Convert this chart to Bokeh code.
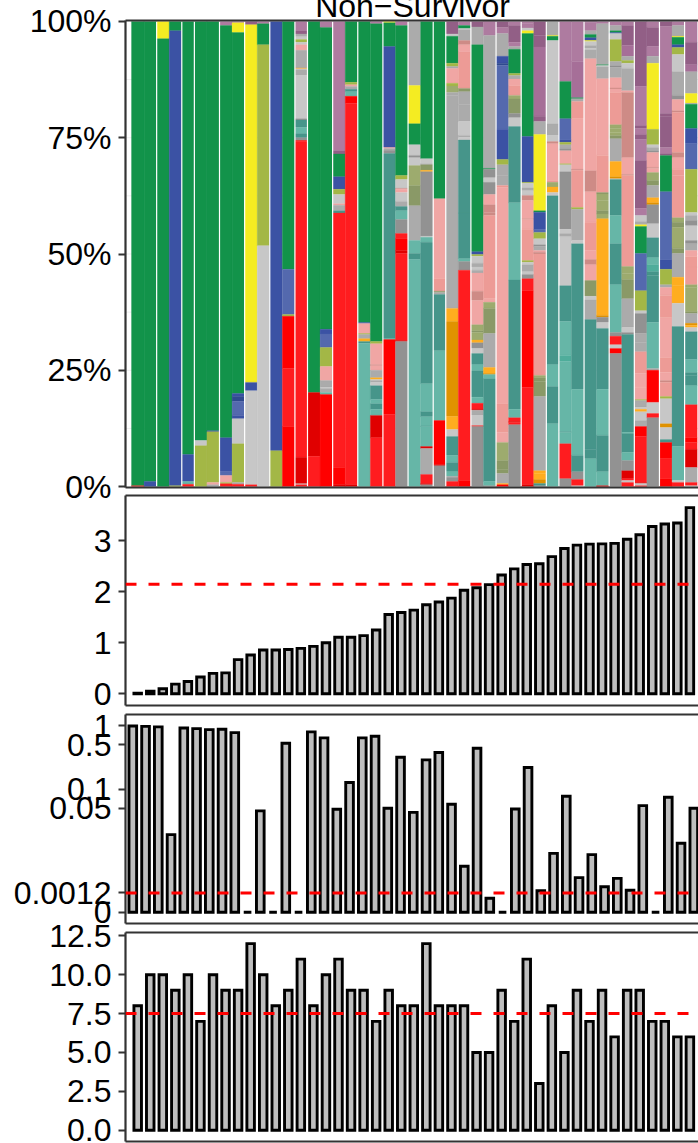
import numpy as np
from bokeh.embed import file_html
from bokeh.resources import INLINE
from bokeh.layouts import column
from bokeh.models import (ColumnDataSource, FixedTicker, Label, LinearAxis, Range1d, Span)
from bokeh.plotting import figure

COLORS = dict(
    G="#12934A", B="#3B52A4", LB="#5469AE", DB="#2F4A8F", Y="#F4EC22", O="#A3B746",
    LG="#C7C7C7", A="#ABABAB", D="#929292", R="#FF1C1F", RR="#FF0000", DR="#E00000",
    P="#F0A6A4", PD="#ED9B96", PK="#CE8B86", T="#46958A", TL="#66B6A7", T2="#4FAD9B",
    M="#AE7BA0", MD="#925F86", MM="#A66F98", OR="#FFAD1F", ORD="#E09200",
    OL="#9DAB6E", OLD="#8A9967",
)

# Each sample: taxa from the top of the bar down, with the cumulative percent where the taxon ends.
s00 = [("G",0.2),("R",0)]
s01 = [("G",1.1),("B",0)]
s02 = [("Y",96.3),("G",0)]
s03 = [("G",98),("B",0.2),("O",0)]
s04 = [("G",6.9),("B",1.1),("TL",0.5),("R",0)]
s05 = [("G",9.9),("LG",8.8),("O",0)]
s06 = [("G",12),("B",11.8),("O",0.9),("P",0.4),("A",0)]
s07 = [("M",99.1),("G",10.5),("B",3.2),("LB",2.4),("P",0.9),("O",0.6),("R",0)]
s08 = [("M",99.7),("Y",97.6),("G",20),("B",19.4),("DB",18.3),("LB",15.3),("B",14.6),("LG",9.2),("O",0.9),("A",0.5),("R",0)]
s09 = [("MD",99.3),("Y",22.4),("B",20.6),("LG",0.4),("R",0)]
s10 = [("M",99.5),("G",95),("O",51.8),("LG",0)]
s11 = [("B",7.7),("O",0)]
s12 = [("G",46.7),("LB",37),("O",36.6),("RR",25.4),("R",12.9),("RR",0)]
s13 = [("M",98),("MD",97.3),("A",96.7),("LG",96.1),("O",95.5),("LG",95),("P",93.9),("PD",93.8),("A",90),("OR",89.8),("LG",89.6),("A",88.4),("LG",79.1),("D",78.8),("T",77.2),("TL",75.9),("T",75),("D",74.4),("RR",74.2),("R",6.3),("DR",0.6),("LG",0.4),("R",0)]
s14 = [("G",20.2),("DR",6.5),("R",0)]
s15 = [("M",98.7),("G",33.8),("B",32.8),("LB",29.9),("O",25.8),("P",22.8),("A",21.3),("LG",21.1),("A",20.2),("TL",19.8),("RR",0)]
s16 = [("M",72.2),("MD",71.5),("G",66.6),("B",63.9),("O",62.8),("LG",60.8),("P",60.5),("A",59.3),("T",58.8),("R",4.1),("RR",0.4),("DR",0)]
s17 = [("G",86.9),("O",86.4),("P",86),("A",85.4),("T",84.9),("TL",83.9),("RR",82.4),("R",0.4),("DR",0)]
s18 = [("G",35.3),("B",35.05),("P",32.9),("O",32.7),("A",31.8),("OR",31.2),("T",30.8),("TL",0)]
s19 = [("M",99.5),("G",31.2),("O",30.7),("P",26.2),("PK",26),("P",25),("A",23.4),("OR",23),("LG",22.8),("A",22.4),("LG",21.7),("T",18.7),("TL",17.8),("T",16.6),("TL",15.3),("DR",10.5),("R",0)]
s20 = [("Y",99.7),("G",94.6),("B",72.9),("P",72.7),("A",72.3),("D",71.6),("T",31.8),("TL",31.6),("RR",15.5),("R",0)]
s21 = [("M",99.1),("G",66.9),("O",66),("LG",64.1),("PK",63.9),("P",63.2),("LG",61.3),("A",60.2),("T",59.3),("TL",57.4),("D",54.4),("R",53.3),("RR",50.75),("DR",50.1),("R",31.4),("DR",31.2),("D",0)]
s22 = [("A",86.2),("Y",78),("G",73.5),("LG",71.2),("D",70.7),("LG",69),("OL",64.7),("OLD",60.4),("A",52.9),("TL",50.1),("T",48.8),("TL",0)]
s23 = [("G",70.5),("LG",69.4),("A",69.2),("OLD",68),("OR",67.7),("D",53.8),("LG",53.6),("TL",52.5),("T",22.1),("TL",16.1),("T",15),("TL",13),("T",12.9),("TL",8.6),("DR",8.2),("A",2.6),("R",0.65),("DR",0.4),("D",0)]
s24 = [("G",61.9),("P",44.7),("PD",42),("OLD",41.7),("A",41.3),("T",29.2),("TL",14.2),("RR",4.7),("DR",4.5),("D",0)]
s25 = [("MD",97.3),("LG",96.8),("G",91),("O",90.3),("A",89.9),("P",86.7),("O",86.1),("OL",84.7),("A",84.1),("A",38.3),("OR",35.5),("ORD",15.05),("OR",12.25),("LG",10.75),("T",6.7),("TL",5.2),("T",3.2),("TL",2.2),("A",2),("D",1.1),("R",0)]
s26 = [("M",99.1),("G",98.5),("LG",98.2),("A",95.9),("PK",95),("P",93.5),("PD",85.6),("OLD",84.9),("A",82.1),("A",78.5),("LG",75.5),("A",75.1),("LG",74.5),("T",58.8),("T",49),("TL",48.4),("D",46.5),("R",1.3),("RR",0)]
s27 = [("MD",98.8),("A",95),("G",50.5),("B",49.9),("O",49.5),("LG",48),("A",47.2),("LG",46.5),("A",45.9),("P",42),("PK",40),("P",34.8),("OL",33.5),("OLD",33.1),("OL",31.5),("OR",30.9),("D",29.7),("LG",28.6),("T",26.2),("TL",24.9),("T",19.2),("TL",17.9),("R",16.6),("DR",16.4),("A",15.3),("LG",13.1),("RR",12.9),("D",0)]
s28 = [("MD",100),("M",97),("A",68.4),("G",68.2),("D",66.4),("LG",65.4),("D",62.8),("P",60.6),("PK",58.9),("PK",58.3),("PD",40.4),("P",39.6),("OL",38.3),("OLD",32.9),("A",25.6),("OR",24.3),("ORD",24.1),("TL",23.2),("T",1.1),("TL",0.2),("D",0)]
s29 = [("MD",98.7),("M",97.4),("A",92.5),("B",91),("DB",90.5),("LB",76.8),("B",70.3),("O",69.2),("A",66.8),("A",64.7),("PD",64.3),("P",17.8),("PD",11.7),("P",9.5),("OL",7),("OL",5.6),("OLD",3.7),("OLD",2.8),("A",0.65),("OR",0.4),("RR",0)]
s30 = [("M",99.1),("MD",95.5),("M",94.6),("A",94),("G",88.8),("O",88.4),("A",87.6),("P",86.2),("PD",84.1),("OL",83.3),("OLD",80.2),("D",79.3),("LG",77.4),("T",61),("TL",44.4),("T",16.6),("TL",14.8),("R",14),("DR",13.8),("R",13.3),("D",0)]
s31 = [("M",99.5),("M",98.6),("LG",98),("Y",97.4),("G",75.25),("B",65.4),("O",65.2),("LG",64.2),("A",63.6),("LG",62.6),("PK",61.5),("P",57.6),("PK",57.4),("P",55.3),("PD",48.6),("O",48.2),("LG",47.7),("A",46.2),("LG",45.6),("D",44.7),("R",42.1),("RR",21.3),("R",0.4),("DR",0)]
s32 = [("MD",97),("MD",94.5),("MM",79.6),("MD",78.5),("A",75.7),("Y",59.3),("G",59),("B",55.2),("LB",54.6),("O",53.3),("LG",52),("D",51.6),("A",50.75),("P",50.4),("PK",50),("PD",23.9),("OL",23.4),("OLD",22.6),("OLD",19.35),("A",3.4),("OR",2.8),("OR",1.5),("ORD",0.65),("T",0.2),("D",0)]
s33 = [("A",97),("Y",96.8),("G",95.9),("LG",78),("A",75.5),("LG",74.2),("PK",73.7),("P",65.8),("PD",65.4),("OL",64.4),("OR",63.2),("LG",62.5),("T",26.2),("TL",21.5),("T",13.5),("TL",0)]
s34 = [("M",87.1),("G",79.1),("LB",74.6),("B",74),("O",73.5),("A",72.7),("D",72.2),("P",69.4),("O",69.2),("LG",67.7),("D",55.3),("LG",54.4),("A",53.7),("LG",43.2),("T",35.5),("TL",28.2),("T2",26.9),("TL",11.8),("T",11.6),("TL",9.2),("R",1.7),("D",0)]
s35 = [("M",91.4),("MM",83.6),("G",83.4),("A",82.8),("PD",79.1),("P",68.2),("PK",68),("PD",60),("O",59.6),("A",52.9),("LG",52.2),("T",20.9),("TL",6.7),("T",3.2),("D",1.5),("R",0.2),("LG",0)]
s36 = [("MD",99.8),("M",98),("A",97.2),("G",96.5),("B",95.9),("Y",95.7),("LG",94.8),("A",94.2),("LG",93.9),("A",92),("P",67.9),("PK",63.4),("P",56.8),("PD",50.75),("P",48.8),("PK",47.7),("P",44.3),("OLD",40.9),("LG",40.1),("A",35.9),("T",8),("T",6),("TL",0)]
s37 = [("M",99.5),("A",90.7),("G",90.5),("LG",90.2),("A",87.7),("P",71.2),("PD",63.2),("OLD",62.9),("OL",61.5),("OL",59.3),("OLD",58.6),("OL",57.6),("OR",36.8),("ORD",36.4),("D",35.3),("LG",34),("T",20.9),("TL",11),("T",3.2),("TL",0.2),("DR",0)]
s38 = [("M",99.1),("A",98),("G",97.6),("B",97.4),("LG",96.1),("O",91.4),("A",90.5),("D",90.1),("A",87.9),("P",85.7),("PK",85.5),("P",84.7),("PD",77.8),("OL",77),("OL",76.1),("OL",75.5),("OLD",74.8),("A",69.9),("OR",66.6),("ORD",66.2),("LG",66),("T",58.3),("TL",52.2),("T",43.4),("TL",33.1),("D",32.3),("R",30.5),("LG",29.7),("RR",28.6),("D",0)]
s39 = [("M",99.1),("MD",94.8),("MM",92.5),("A",91.6),("O",91),("LG",89.9),("A",85.1),("P",84.7),("PK",70.7),("P",67.1),("PK",66.9),("PD",47.3),("OL",45.8),("OL",44.5),("OLD",40.4),("A",34.2),("LG",33.1),("D",32.7),("T",11.6),("TL",11.4),("T",7.3),("TL",5.6),("D",3.4),("DR",1.7),("R",1.3),("LG",0.9),("R",0)]
s40 = [("MD",86),("M",77.6),("MD",77),("M",75.7),("MD",74.6),("M",70.1),("MD",59.8),("M",58.3),("LG",57),("A",56.3),("Y",55.9),("G",50.1),("LB",42.1),("O",37.8),("LG",37.2),("D",32.9),("A",31),("A",29),("PD",24.3),("P",21.5),("PD",21.3),("P",18.7),("O",18.5),("A",17),("LG",16.6),("OR",16.1),("LG",14.2),("A",12.9),("RR",10.75),("R",0.86),("DR",0.65),("LG",0.2),("R",0)]
s41 = [("M",98.7),("MD",94.6),("M",92.5),("A",91),("Y",76.8),("O",73.5),("LG",72.9),("A",72.2),("D",71.8),("P",68.6),("PK",68.4),("P",67.5),("OL",65.8),("OLD",64.7),("A",62.1),("OR",61),("ORD",60.6),("D",56.5),("LG",53.5),("T",49.2),("TL",47.7),("T2",46.2),("T",45.4),("T",35.3),("TL",25.4),("A",25),("RR",18.1),("LG",15.7),("R",14.8),("D",0)]
s42 = [("MD",98.9),("M",80.2),("MD",79.6),("MD",72.9),("M",71.6),("MD",71.2),("G",63.4),("LB",48.8),("B",46.7),("O",43.4),("A",42.8),("P",41.1),("PD",36.3),("P",27.7),("PD",24.5),("P",22.8),("PK",22.4),("PD",19.35),("O",18.9),("LG",13.5),("ORD",12.7),("LG",10.1),("T",9.5),("RR",6),("R",1.7),("RR",0)]
s43 = [("M",99.1),("A",96.8),("Y",96.6),("G",95),("B",94.4),("O",92.9),("LG",89.2),("A",84.1),("D",83.2),("P",80.8),("PK",80.4),("PD",71.8),("PK",70.7),("P",68.2),("PD",66.9),("PD",57.8),("OL",56.8),("OLD",55.7),("OL",51.2),("OLD",50.1),("A",45),("OR",43.2),("OR",39.4),("LG",34.4),("T",8.6),("TL",1.3),("LG",0.9),("R",0)]
s44 = [("M",95.5),("MD",90.7),("MM",89.2),("A",84.5),("Y",82.4),("A",82.2),("G",77),("B",73.7),("LB",68.2),("O",58.9),("LG",58.3),("A",57.2),("D",56.1),("LG",52.9),("D",52.2),("A",50.75),("P",49.4),("PD",47.2),("PD",43.4),("OL",42.8),("OL",37.6),("OLD",37.2),("A",35.1),("ORD",34.7),("OR",34.2),("LG",33.3),("T",27.3),("TL",24.5),("T",23.8),("T",21.7),("TL",17.6),("R",10.5),("RR",9.5),("R",8),("DR",4.1),("A",0.86),("R",0.2),("LG",0)]
samples = [s00,s01,s02,s03,s04,s05,s06,s07,s08,s09,s10,s11,s12,s13,s14,s15,s16,s17,s18,s19,
           s20,s21,s22,s23,s24,s25,s26,s27,s28,s29,s30,s31,s32,s33,s34,s35,s36,s37,s38,s39,
           s40,s41,s42,s43,s44]

# Samples followed by a thin white seam in the stacked panel.
seams_after = [1,3,4,6,8,10,12,13,15,17,19,21,23,24,26,28,30,32,33,35,37,39,41,43]

diversity = [0.01,0.05,0.10,0.19,0.24,0.33,0.40,0.41,0.67,0.76,0.86,0.86,0.87,0.89,0.93,1.0,1.11,
             1.11,1.14,1.25,1.555,1.595,1.64,1.745,1.80,1.876,2.03,2.08,2.14,2.33,2.45,2.535,2.55,
             2.69,2.85,2.915,2.935,2.94,2.95,3.03,3.12,3.28,3.33,3.35,3.65]
diversity_ref = 2.15

pvalues = [0.98,0.97,0.95,0.0184,0.915,0.895,0.863,0.875,0.774,0,0.045,0,0.527,0,0.794,0.64,0.0477,
           0.127,0.64,0.679,0.0495,0.318,0.0426,0.289,0.377,0.0574,0.0051,0.44,0.00078,0,0.0482,
           0.219,0.0014,0.0088,0.077,0.00297,0.00835,0.0018,0.00286,0.00144,0.0546,0,0.0741,0.0132,0.0495]
pvalue_ref = 0.0012
pvalue_offset = 0.0012
pvalue_ticks = [1, 0.5, 0.1, 0.05, 0.0012, 0]
pvalue_labels = ["1", "0.5", "0.1", "0.05", "0.0012", "0"]

counts = [8,10,10,9,10,7,10,9,9,12,10,8,9,11,8,10,11,9,9,7,9,8,8,12,8,8,8,5,5,9,7,11,3,8,5,9,7,9,6,9,9,7,7,6,6]
counts_ref = 7.5

FONT = "Liberation Sans"
FRAME = "#333333"
W = 698
LEFT = 125
FRAME_W = W - LEFT
BAR_W = 0.6


def panel(height, top, bottom, x0, dx, ymin, ymax, ticks, labels, margin_top):
    p = figure(width=W, height=height, output_backend="svg", toolbar_location=None,
               x_range=Range1d((LEFT - x0) / dx, (LEFT + FRAME_W - x0) / dx),
               y_range=Range1d(ymin, ymax),
               min_border_left=LEFT, min_border_right=0, min_border_top=top, min_border_bottom=bottom,
               background_fill_color=None, border_fill_color=None, outline_line_color=None,
               x_axis_location=None, y_axis_location="left", margin=(margin_top, 0, 0, 0))
    p.xgrid.visible = False
    p.ygrid.visible = False
    ax = p.yaxis[0]
    ax.ticker = FixedTicker(ticks=ticks)
    ax.major_label_overrides = dict(zip(ticks, labels))
    ax.major_label_text_font = FONT
    ax.major_label_text_font_size = "32px"
    ax.major_label_text_color = "#000000"
    ax.major_label_standoff = 7
    ax.major_tick_out = 7
    ax.major_tick_in = 0
    ax.minor_tick_out = 0
    ax.minor_tick_in = 0
    ax.major_tick_line_color = FRAME
    ax.major_tick_line_width = 2
    ax.axis_line_color = FRAME
    ax.axis_line_width = 2.2
    for side in ("above", "below"):
        edge = LinearAxis(ticker=FixedTicker(ticks=[]), major_label_text_font_size="0px",
                          major_tick_in=0, major_tick_out=0, minor_tick_in=0, minor_tick_out=0,
                          axis_line_color=FRAME, axis_line_width=2.2)
        p.add_layout(edge, side)
    return p


def bars(p, vals, baseline):
    src = ColumnDataSource(dict(x=list(range(len(vals))), top=list(vals), bottom=[baseline] * len(vals)))
    p.vbar(x="x", top="top", bottom="bottom", width=BAR_W, source=src, fill_color="#BEBEBE",
           line_color="#000000", line_width=2.9, line_join="miter")


def refline(p, loc):
    p.add_layout(Span(location=loc, dimension="width", line_color="#FF0000", line_width=3, line_dash="11 12"))


# Title strip: starts above the page, so the title is cut by the top edge as in the reference
p0 = figure(width=W, height=50, output_backend="svg", toolbar_location=None,
            x_range=Range1d(0, W), y_range=Range1d(0, 50),
            min_border_left=0, min_border_right=0, min_border_top=0, min_border_bottom=0,
            background_fill_color=None, border_fill_color=None, outline_line_color=None,
            x_axis_location=None, y_axis_location=None)
p0.xgrid.visible = False
p0.ygrid.visible = False
p0.add_layout(Label(x=287, y=15, x_units="screen", y_units="screen", text="Non\u2212Survivor",
                    text_align="center", text_baseline="alphabetic", text_font=FONT,
                    text_font_size="32px", text_color="#000000"))

# Panel 1: stacked composition
p1 = panel(506, 20, 19, 137.3, 12.57, -0.2, 100.2, [0, 25, 50, 75, 100],
           ["0%", "25%", "50%", "75%", "100%"], -20)
grid_src = [12.5, 25, 37.5, 50, 62.5, 75, 87.5]
for g in grid_src:
    p1.add_layout(Span(location=g, dimension="width", line_color="#EFEFEF", line_width=1, level="underlay"))
xs, tops, bots, cols = [], [], [], []
for i, s in enumerate(samples):
    upper = 100.0
    for key, lower in s:
        xs.append(i); tops.append(upper); bots.append(lower); cols.append(COLORS[key])
        upper = lower
p1.vbar(x="x", top="top", bottom="bottom", width=1.0, fill_color="color", line_color="color", line_width=0.3,
        source=ColumnDataSource(dict(x=xs, top=tops, bottom=bots, color=cols)))
p1.segment(x0=[i + 0.5 for i in seams_after], x1=[i + 0.5 for i in seams_after],
           y0=[0] * len(seams_after), y1=[100] * len(seams_after), line_color="#FFFFFF", line_width=1.2)

# Panel 2: diversity
sc2 = 51.0
p2 = panel(224, 7, 7, 137.2, 12.55, -(705 - 693.3) / sc2, (693.3 - 495) / sc2, [0, 1, 2, 3],
           ["0", "1", "2", "3"], -18)
bars(p2, diversity, 0)
refline(p2, diversity_ref)

# Panel 3: p-values on a log scale with an offset
tf = lambda v: np.log10(np.asarray(v, dtype=float) + pvalue_offset)
t_ticks = [float(t) for t in tf(pvalue_ticks)]
sc3 = (911.7 - 725) / (t_ticks[0] - t_ticks[-1])
p3 = panel(230, 14, 7, 132.3, 12.75, t_ticks[-1] - (923 - 911.7) / sc3, t_ticks[0] + (725 - 714) / sc3,
           t_ticks, pvalue_labels, -12)
bars(p3, [float(t) for t in tf(pvalues)], t_ticks[-1])
refline(p3, float(tf(pvalue_ref)))

# Panel 4: counts
sc4 = 15.55
p4 = panel(231, 20, 2, 137.2, 12.55, -(1141 - 1129.7) / sc4, (1129.7 - 932) / sc4,
           [0, 2.5, 5, 7.5, 10, 12.5], ["0.0", "2.5", "5.0", "7.5", "10.0", "12.5"], -18)
bars(p4, counts, 0)
refline(p4, counts_ref)

root = column(p0, p1, p2, p3, p4, spacing=0, styles={"position": "absolute", "left": "0px", "top": "-30px"})
open("out.html", "w").write(file_html(root, INLINE))
